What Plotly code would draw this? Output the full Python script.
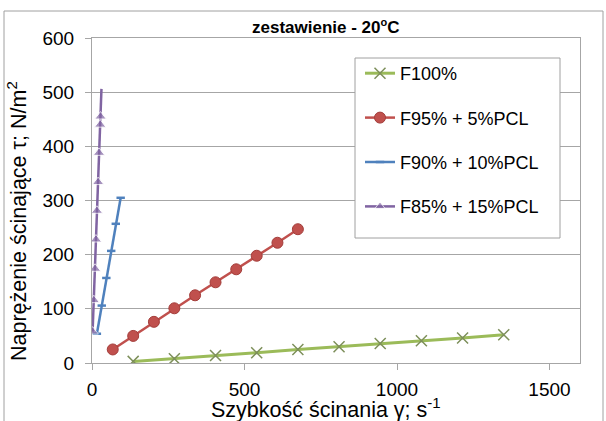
import plotly.graph_objects as go

# ---- data ----
series_names = ["F100%", "F95% + 5%PCL", "F90% + 10%PCL", "F85% + 15%PCL"]

x_f100 = [135, 270, 405, 540, 675, 810, 945, 1080, 1215, 1350]
y_f100 = [3, 8, 14, 19, 25, 30, 36, 41, 46, 52]

x_f95 = [68, 135, 203, 270, 338, 405, 473, 540, 608, 675]
y_f95 = [25, 50, 76, 101, 125, 149, 173, 198, 222, 247]

x_f90 = [16, 32, 47, 63, 78, 94]
y_f90 = [54, 106, 157, 207, 257, 305]

x_f85 = [2, 6, 10, 13, 16, 20, 23, 27, 28, 31]
y_f85 = [58, 116, 174, 228, 281, 334, 388, 440, 455, 506]

x_ticks = [0, 500, 1000, 1500]
y_ticks = [0, 100, 200, 300, 400, 500, 600]

FONT = "Arial, 'Liberation Sans', sans-serif"
GREEN, RED, BLUE, PURPLE = "#9BBB59", "#C0504D", "#4F81BD", "#8064A2"
GRID = "#a6a6a6"

W, H = 606, 421
ML, MR, MT, MB = 92, 26, 38, 58
PW, PH = W - ML - MR, H - MT - MB


def px(xp):
    return (xp - ML) / PW


def py(yp):
    return (H - MB - yp) / PH


fig = go.Figure()
fig.add_trace(go.Scatter(
    x=x_f100, y=y_f100, name=series_names[0], mode="lines+markers",
    legendgroup="a",
    line=dict(color=GREEN, width=3),
    marker=dict(symbol="x-thin", size=11, color="#7d8f5a",
                line=dict(width=1.5, color="#7d8f5a"))))
fig.add_trace(go.Scatter(
    x=x_f95, y=y_f95, name=series_names[1], mode="lines+markers",
    legendgroup="b",
    line=dict(color=RED, width=2.5),
    marker=dict(symbol="circle", size=11, color=RED,
                line=dict(width=1, color="#a33d3a"))))
fig.add_trace(go.Scatter(
    x=x_f90, y=y_f90, name=series_names[2], mode="lines+markers",
    legendgroup="c",
    line=dict(color=BLUE, width=2.5),
    marker=dict(symbol="line-ew", size=6, color=BLUE,
                line=dict(width=2.5, color=BLUE))))
fig.add_trace(go.Scatter(
    x=x_f85, y=y_f85, name=series_names[3], mode="lines+markers",
    legendgroup="d",
    line=dict(color=PURPLE, width=2.5),
    marker=dict(symbol="triangle-up", size=[10] * (len(x_f85) - 1) + [0],
                color=PURPLE)))

shapes = [
    # outer chart frame
    dict(type="rect", xref="paper", yref="paper",
         x0=px(4), x1=px(603), y0=py(445), y1=py(11),
         line=dict(color="#a0a0a0", width=1), fillcolor="rgba(0,0,0,0)",
         layer="below"),
    # legend box
    dict(type="rect", xref="paper", yref="paper",
         x0=px(355), x1=px(560), y0=py(238), y1=py(58),
         line=dict(color="#a0a0a0", width=1), fillcolor="white",
         layer="above"),
]

annotations = [
    dict(text="<b>zestawienie - 20<sup><span style='font-size:11px'>o</span></sup>C</b>",
         xref="paper", yref="paper",
         x=px(326), y=py(26), xanchor="center", yanchor="middle",
         showarrow=False, font=dict(family=FONT, size=17, color="black")),
    dict(text="Szybkość ścinania γ; s<sup>-1</sup>", xref="paper", yref="paper",
         x=px(326), y=py(408), xanchor="center", yanchor="middle",
         showarrow=False, font=dict(family=FONT, size=21.5, color="black")),
    dict(text="Naprężenie ścinające τ; N/m<sup>2</sup>", xref="paper", yref="paper",
         x=px(17), y=py(221), xanchor="center", yanchor="middle", textangle=-90,
         showarrow=False, font=dict(family=FONT, size=21.5, color="black")),
]

fig.update_layout(
    width=W, height=H,
    margin=dict(l=ML, r=MR, t=MT, b=MB, pad=0),
    paper_bgcolor="white", plot_bgcolor="white",
    font=dict(family=FONT, size=19, color="black"),
    showlegend=True,
    legend=dict(x=px(360), y=py(55), xanchor="left", yanchor="top",
                bgcolor="rgba(0,0,0,0)", borderwidth=0,
                tracegroupgap=18, itemwidth=30,
                font=dict(family=FONT, size=18, color="black")),
    shapes=shapes, annotations=annotations,
)
fig.update_xaxes(range=[0, 1600], tickvals=x_ticks, showgrid=False,
                 zeroline=False, showline=True, linecolor=GRID, linewidth=1,
                 mirror=True, ticks="outside", ticklen=6, tickcolor=GRID,
                 ticklabelstandoff=3,
                 tickfont=dict(family=FONT, size=19, color="black"))
fig.update_yaxes(range=[0, 600], tickvals=y_ticks, showgrid=True,
                 gridcolor=GRID, gridwidth=1, zeroline=False,
                 showline=True, linecolor=GRID, linewidth=1, mirror=True,
                 ticks="outside", ticklen=6, tickcolor=GRID,
                 ticklabelstandoff=7,
                 tickfont=dict(family=FONT, size=19, color="black"))

fig.write_html("out.html",
               config={"displayModeBar": False},
               post_script="document.body.style.margin='0';"
                           "document.body.style.overflow='hidden';")
